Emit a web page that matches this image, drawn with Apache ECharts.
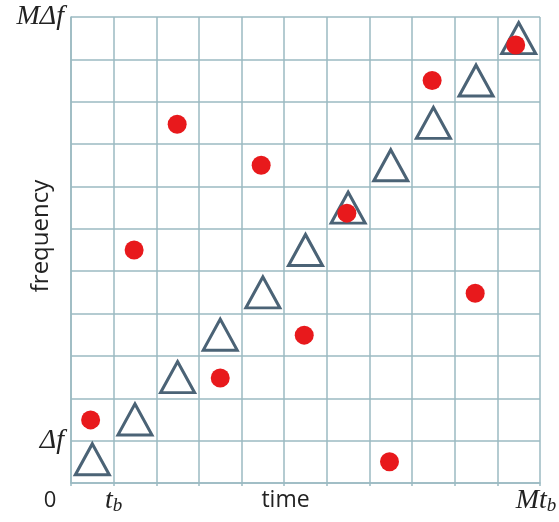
<!DOCTYPE html>
<html>
<head>
<meta charset="utf-8">
<script src="https://cdn.jsdelivr.net/npm/echarts@6/dist/echarts.min.js"></script>
<style>
html,body{margin:0;padding:0;background:#fff;}
#chart{width:559px;height:522px;}
</style>
</head>
<body>
<div id="chart"></div>
<script>
// Triangles (one per time slot, along the diagonal)
var triX = [0.5, 1.5, 2.5, 3.5, 4.5, 5.5, 6.5, 7.5, 8.5, 9.5, 10.5];
var triY = [0.56, 1.5, 2.5, 3.5, 4.5, 5.5, 6.5, 7.5, 8.5, 9.5, 10.5];
// Red dots (one per time slot, permuted frequencies)
var dotX = [0.46, 1.48, 2.49, 3.5, 4.46, 5.47, 6.47, 7.47, 8.47, 9.48, 10.43];
var dotY = [1.49, 5.5, 8.47, 2.48, 7.5, 3.49, 6.37, 0.5, 9.5, 4.48, 10.34];
// Axis tick labels
var xTickLabels = {0: '{z|0}', 1: '{i|t}{s|b}', 11: '{m|Mt}{e|b}'};
var yTickLabels = {1: '{i|Δf}', 11: '{i|MΔf}'};

var gridColor = '#9bbac2';
var serif = '"Liberation Serif", "DejaVu Serif", serif';
var sans = '"Open Sans", "Noto Sans", sans-serif';

var chart = echarts.init(document.getElementById('chart'), null, {renderer: 'canvas'});
chart.setOption({
  animation: false,
  grid: {left: 71, top: 17, right: 19, bottom: 39, containLabel: false, outerBoundsMode: 'none'},
  xAxis: {
    type: 'value', min: 0, max: 11, interval: 1,
    name: 'time', nameLocation: 'middle', nameGap: 17, nameMoveOverlap: false,
    nameTextStyle: {fontFamily: sans, fontSize: 23, color: '#222', padding: [0, 40, 0, 0], verticalAlign: 'middle'},
    axisLine: {show: true, lineStyle: {color: gridColor, width: 1.5}},
    axisTick: {show: true, length: 3, lineStyle: {color: gridColor, width: 1.5}},
    splitLine: {show: true, lineStyle: {color: gridColor, width: 1.5}},
    axisLabel: {
      margin: 3,
      formatter: function (v) { return xTickLabels[v] || ''; },
      rich: {
        z: {fontFamily: sans, fontSize: 22, color: '#222', padding: [4, 42, 0, 0]},
        i: {fontFamily: serif, fontStyle: 'italic', fontSize: 28, color: '#222'},
        m: {fontFamily: serif, fontStyle: 'italic', fontSize: 28, color: '#222'},
        s: {fontFamily: serif, fontStyle: 'italic', fontSize: 19, color: '#222', padding: [10, 0, 0, 0]},
        e: {fontFamily: serif, fontStyle: 'italic', fontSize: 19, color: '#222', padding: [10, 8, 0, 0]}
      }
    }
  },
  yAxis: {
    type: 'value', min: 0, max: 11, interval: 1,
    name: 'frequency', nameLocation: 'middle', nameGap: 30, nameRotate: 90, nameMoveOverlap: false,
    nameTextStyle: {fontFamily: sans, fontSize: 24, color: '#222', verticalAlign: 'middle', padding: [0, 0, 0, 28]},
    axisLine: {show: true, lineStyle: {color: gridColor, width: 1.5}},
    axisTick: {show: false},
    splitLine: {show: true, lineStyle: {color: gridColor, width: 1.5}},
    axisLabel: {
      margin: 7,
      formatter: function (v) { return yTickLabels[v] || ''; },
      rich: {
        i: {fontFamily: serif, fontStyle: 'italic', fontSize: 28, color: '#222'}
      }
    }
  },
  series: [
    {
      type: 'scatter',
      symbol: 'triangle',
      symbolSize: [34, 31],
      itemStyle: {color: 'rgba(0,0,0,0)', borderColor: '#4b6376', borderWidth: 3, opacity: 1},
      data: triX.map(function (x, i) { return [x, triY[i]]; }),
      z: 2
    },
    {
      type: 'scatter',
      symbol: 'circle',
      symbolSize: 19,
      itemStyle: {color: '#e8191c', opacity: 1},
      data: dotX.map(function (x, i) { return [x, dotY[i]]; }),
      z: 3
    }
  ]
});
</script>
</body>
</html>
